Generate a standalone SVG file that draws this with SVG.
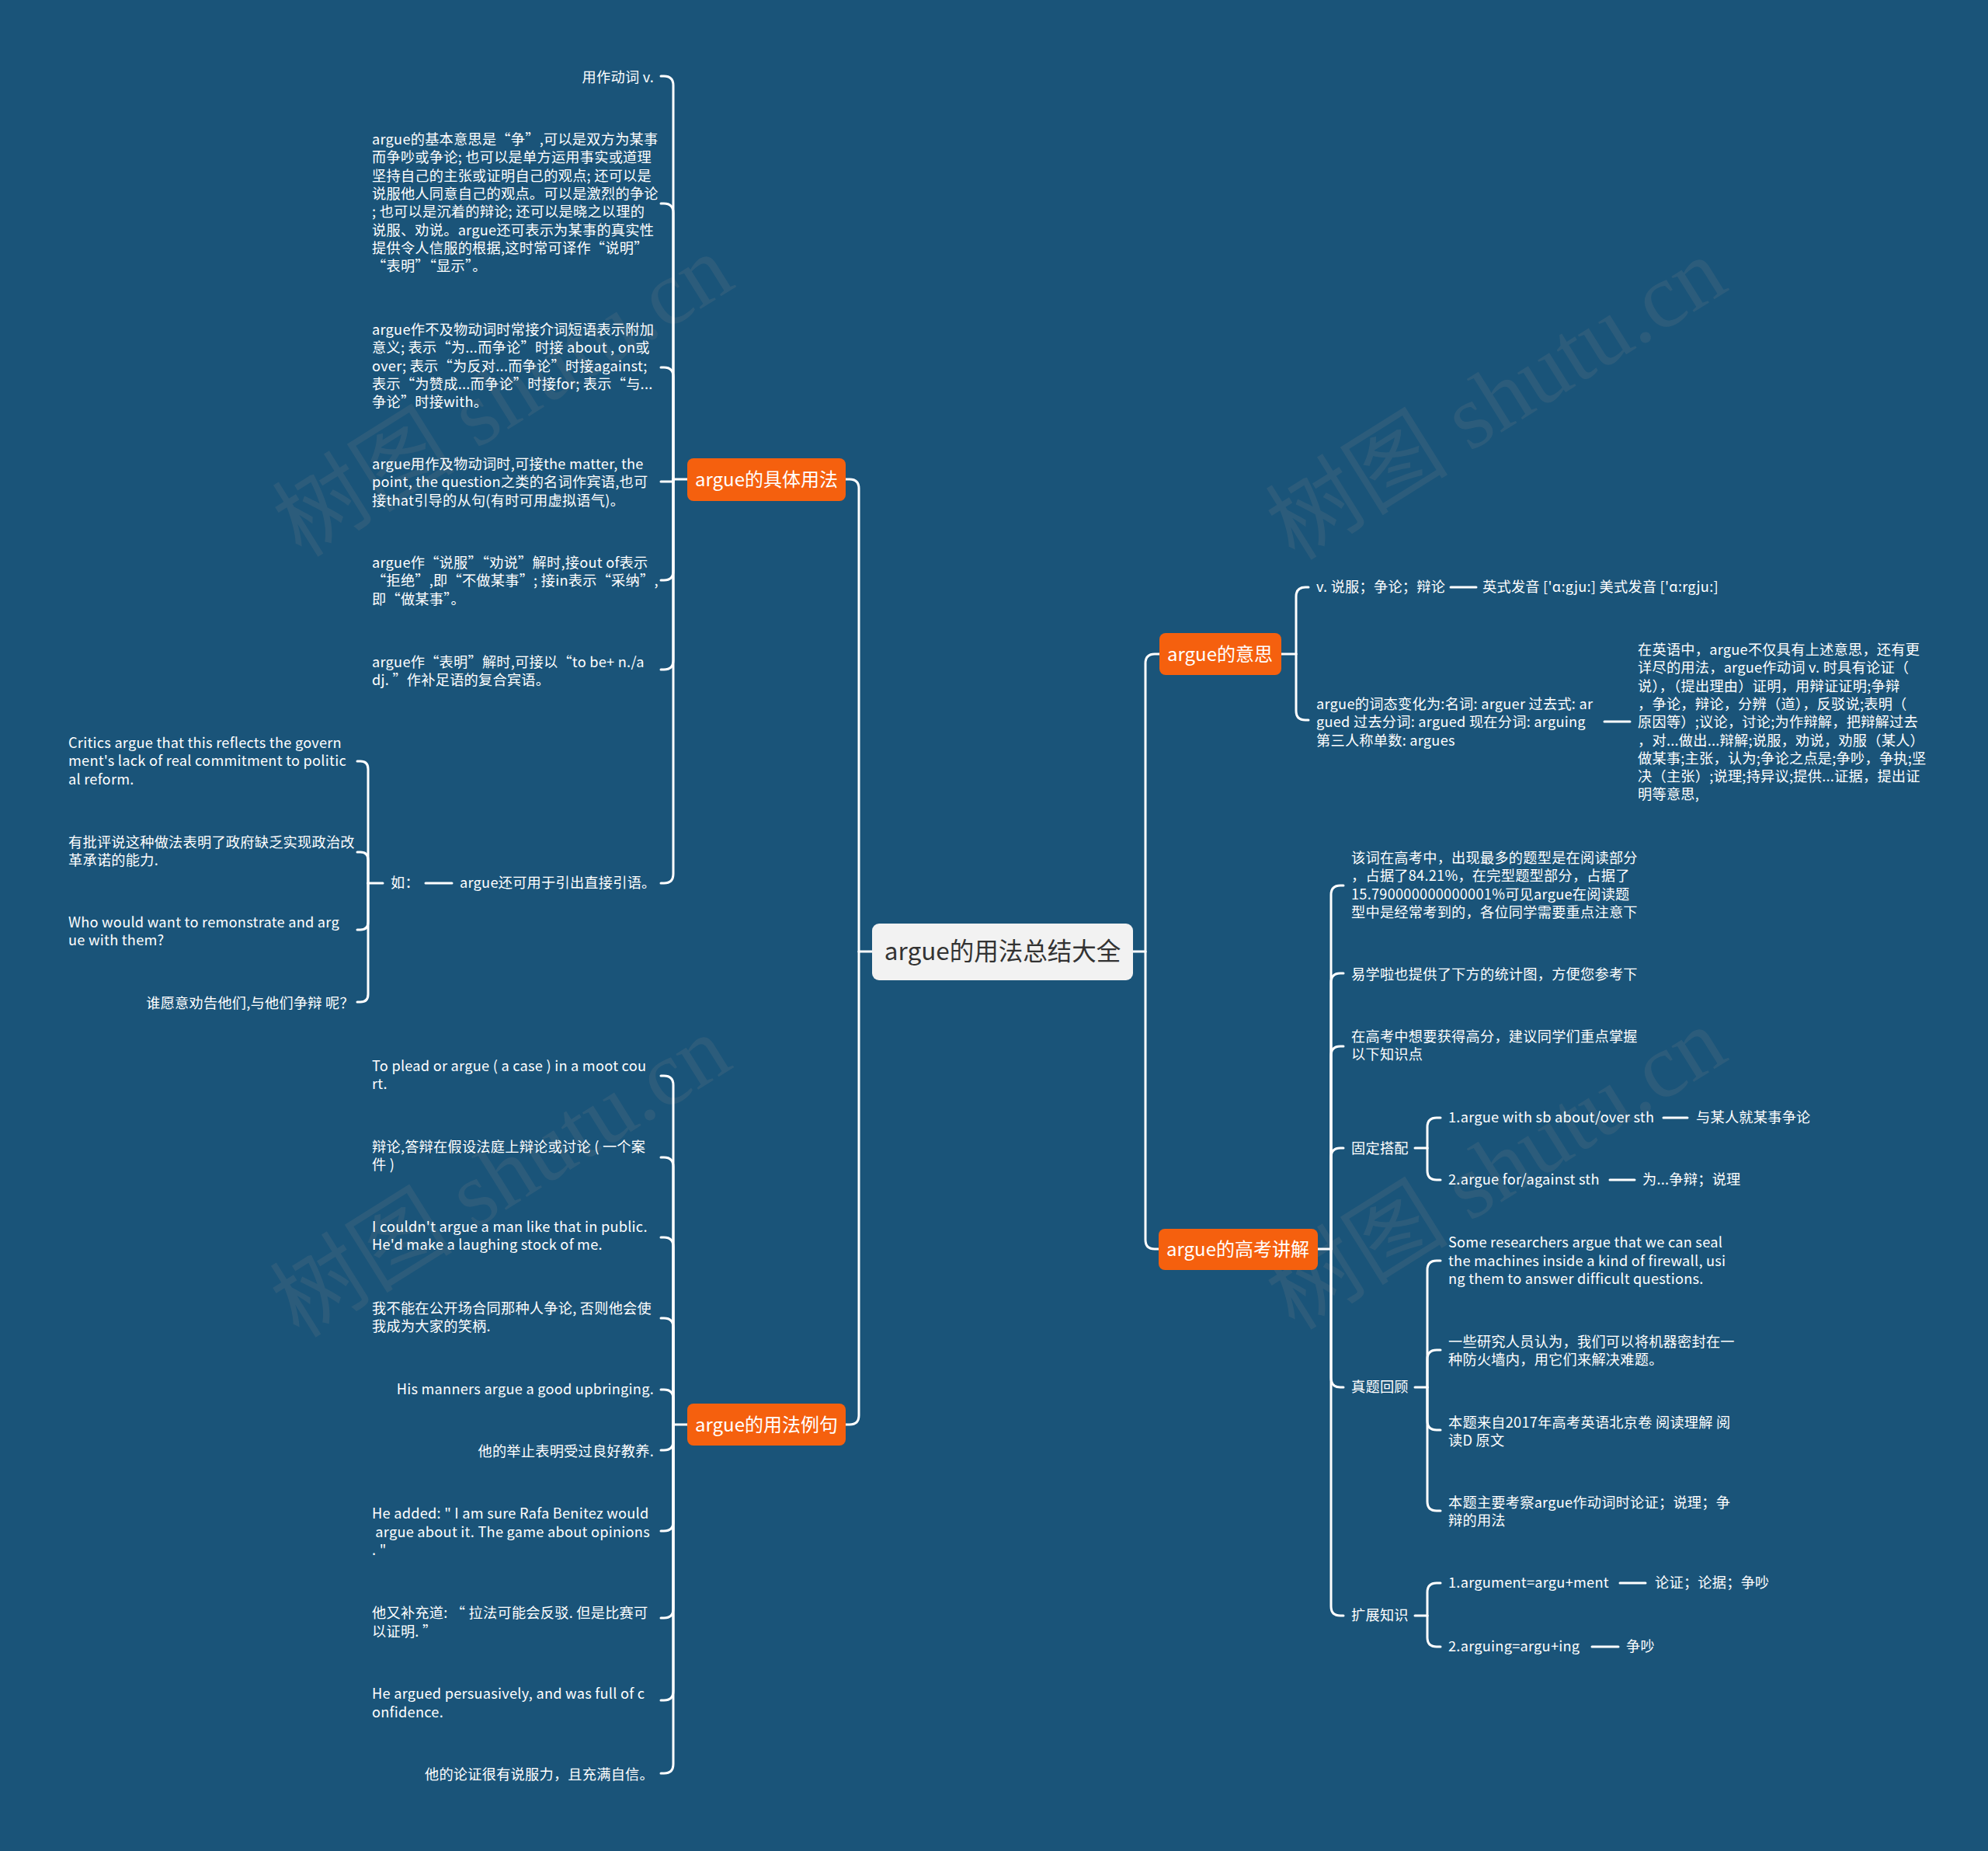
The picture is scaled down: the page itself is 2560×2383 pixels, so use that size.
<svg xmlns="http://www.w3.org/2000/svg" width="2560" height="2383" viewBox="0 0 2560 2383">
<style>
.bg{fill:#1a5479}
.wm{font-family:"Liberation Serif","Noto Sans CJK SC",serif;font-size:118px;fill:#8a8a8a;opacity:0.16}
.ln{fill:none;stroke:#ffffff;stroke-width:3;stroke-linecap:round}
.t{font-family:"Noto Sans CJK SC","Noto Sans",sans-serif;font-size:18.2px;letter-spacing:0.25px;fill:#ffffff}
.e{text-anchor:end}
.br{fill:#f5600e}
.bt{font-family:"Noto Sans CJK SC","Noto Sans",sans-serif;font-size:24px;fill:#ffffff;text-anchor:middle}
.ct{font-family:"Noto Sans CJK SC","Noto Sans",sans-serif;font-size:31.5px;fill:#333333;text-anchor:middle}
</style>
<rect class="bg" x="0" y="0" width="2560" height="2383"/>
<g id="watermark">
<text class="wm" transform="translate(648 510) rotate(-32)" text-anchor="middle" dominant-baseline="central">树图 shutu.cn</text>
<text class="wm" transform="translate(1927 514) rotate(-32)" text-anchor="middle" dominant-baseline="central">树图 shutu.cn</text>
<text class="wm" transform="translate(645 1515) rotate(-32)" text-anchor="middle" dominant-baseline="central">树图 shutu.cn</text>
<text class="wm" transform="translate(1927 1505) rotate(-32)" text-anchor="middle" dominant-baseline="central">树图 shutu.cn</text>
</g>
<g id="connectors">
<path class="ln" d="M1123 1225 H1106"/>
<path class="ln" d="M1106 1225 V629 Q1106 617 1094 617 H1089"/>
<path class="ln" d="M1106 1225 V1822 Q1106 1834 1094 1834 H1089"/>
<path class="ln" d="M1459 1225 H1475"/>
<path class="ln" d="M1475 1225 V854 Q1475 842 1487 842 H1493"/>
<path class="ln" d="M1475 1225 V1596 Q1475 1608 1487 1608 H1492"/>
<path class="ln" d="M885 617 H867"/>
<path class="ln" d="M867 617 V110 Q867 98 855 98 H851"/>
<path class="ln" d="M867 617 V274 Q867 262 855 262 H851"/>
<path class="ln" d="M867 617 V485 Q867 473 855 473 H851"/>
<path class="ln" d="M867 617 V620 H851"/>
<path class="ln" d="M867 617 V735 Q867 747 855 747 H851"/>
<path class="ln" d="M867 617 V850 Q867 862 855 862 H851"/>
<path class="ln" d="M867 617 V1125 Q867 1137 855 1137 H851"/>
<path class="ln" d="M582 1137 H548"/>
<path class="ln" d="M493 1137 H474"/>
<path class="ln" d="M474 1137 V990 Q474 980 464 980 H460"/>
<path class="ln" d="M474 1137 V1107 Q474 1097 464 1097 H460"/>
<path class="ln" d="M474 1137 V1187 Q474 1197 464 1197 H460"/>
<path class="ln" d="M474 1137 V1280 Q474 1290 464 1290 H460"/>
<path class="ln" d="M885 1834 H867"/>
<path class="ln" d="M867 1834 V1397 Q867 1385 855 1385 H851"/>
<path class="ln" d="M867 1834 V1502 Q867 1490 855 1490 H851"/>
<path class="ln" d="M867 1834 V1605 Q867 1593 855 1593 H851"/>
<path class="ln" d="M867 1834 V1709 Q867 1697 855 1697 H851"/>
<path class="ln" d="M867 1834 V1801 Q867 1789 855 1789 H851"/>
<path class="ln" d="M867 1834 V1855 Q867 1867 855 1867 H851"/>
<path class="ln" d="M867 1834 V1959 Q867 1971 855 1971 H851"/>
<path class="ln" d="M867 1834 V2071 Q867 2083 855 2083 H851"/>
<path class="ln" d="M867 1834 V2177 Q867 2189 855 2189 H851"/>
<path class="ln" d="M867 1834 V2271 Q867 2283 855 2283 H851"/>
<path class="ln" d="M1650 842 H1669"/>
<path class="ln" d="M1669 842 V768 Q1669 756 1681 756 H1685"/>
<path class="ln" d="M1669 842 V915 Q1669 927 1681 927 H1685"/>
<path class="ln" d="M1868 756 H1901"/>
<path class="ln" d="M2066 929 H2099"/>
<path class="ln" d="M1697 1608 H1714"/>
<path class="ln" d="M1714 1608 V1152 Q1714 1140 1726 1140 H1730"/>
<path class="ln" d="M1714 1608 V1265 Q1714 1253 1726 1253 H1730"/>
<path class="ln" d="M1714 1608 V1359 Q1714 1347 1726 1347 H1730"/>
<path class="ln" d="M1714 1608 V1490 Q1714 1478 1726 1478 H1730"/>
<path class="ln" d="M1714 1608 V1774 Q1714 1786 1726 1786 H1730"/>
<path class="ln" d="M1714 1608 V2068 Q1714 2080 1726 2080 H1730"/>
<path class="ln" d="M1822 1478 H1838"/>
<path class="ln" d="M1838 1478 V1451 Q1838 1439 1850 1439 H1855"/>
<path class="ln" d="M1838 1478 V1507 Q1838 1519 1850 1519 H1855"/>
<path class="ln" d="M2142 1439 H2173"/>
<path class="ln" d="M2073 1519 H2105"/>
<path class="ln" d="M1822 1786 H1838"/>
<path class="ln" d="M1838 1786 V1635 Q1838 1623 1850 1623 H1855"/>
<path class="ln" d="M1838 1786 V1750 Q1838 1738 1850 1738 H1855"/>
<path class="ln" d="M1838 1786 V1829 Q1838 1841 1850 1841 H1855"/>
<path class="ln" d="M1838 1786 V1933 Q1838 1945 1850 1945 H1855"/>
<path class="ln" d="M1822 2080 H1838"/>
<path class="ln" d="M1838 2080 V2050 Q1838 2038 1850 2038 H1855"/>
<path class="ln" d="M1838 2080 V2108 Q1838 2120 1850 2120 H1855"/>
<path class="ln" d="M2086 2038 H2119"/>
<path class="ln" d="M2050 2120 H2084"/>
</g>
<g id="center">
<rect x="1123" y="1189" width="336" height="73" rx="9" fill="#f2f2f2"/>
<text class="ct" x="1291" y="1236">argue的用法总结大全</text>
</g>
<g id="b-jtyf">
<rect class="br" x="885" y="590" width="204" height="55" rx="8"/>
<text class="bt" x="987" y="626">argue的具体用法</text>
</g>
<g id="b-yflj">
<rect class="br" x="885" y="1807" width="204" height="54" rx="8"/>
<text class="bt" x="987" y="1843">argue的用法例句</text>
</g>
<g id="b-ys">
<rect class="br" x="1493" y="815" width="157" height="54" rx="8"/>
<text class="bt" x="1571" y="851">argue的意思</text>
</g>
<g id="b-gk">
<rect class="br" x="1492" y="1582" width="205" height="53" rx="8"/>
<text class="bt" x="1594" y="1617">argue的高考讲解</text>
</g>
<g id="n-l1"><text class="t e" x="842" y="106">用作动词 v.</text></g>
<g id="n-l2"><text class="t" x="479" y="186">argue的基本意思是“争”,可以是双方为某事<tspan x="479" dy="23.3">而争吵或争论; 也可以是单方运用事实或道理</tspan><tspan x="479" dy="23.3">坚持自己的主张或证明自己的观点; 还可以是</tspan><tspan x="479" dy="23.3">说服他人同意自己的观点。可以是激烈的争论</tspan><tspan x="479" dy="23.3">; 也可以是沉着的辩论; 还可以是晓之以理的</tspan><tspan x="479" dy="23.3">说服、劝说。argue还可表示为某事的真实性</tspan><tspan x="479" dy="23.3">提供令人信服的根据,这时常可译作“说明”</tspan><tspan x="479" dy="23.3">“表明”“显示”。</tspan></text></g>
<g id="n-l3"><text class="t" x="479" y="431">argue作不及物动词时常接介词短语表示附加<tspan x="479" dy="23.3">意义; 表示“为...而争论”时接 about , on或</tspan><tspan x="479" dy="23.3">over; 表示“为反对...而争论”时接against;</tspan><tspan x="479" dy="23.3">表示“为赞成...而争论”时接for; 表示“与...</tspan><tspan x="479" dy="23.3">争论”时接with。</tspan></text></g>
<g id="n-l4"><text class="t" x="479" y="604">argue用作及物动词时,可接the matter, the<tspan x="479" dy="23.3">point, the question之类的名词作宾语,也可</tspan><tspan x="479" dy="23.3">接that引导的从句(有时可用虚拟语气)。</tspan></text></g>
<g id="n-l5"><text class="t" x="479" y="731">argue作“说服”“劝说”解时,接out of表示<tspan x="479" dy="23.3">“拒绝”,即“不做某事”; 接in表示“采纳”,</tspan><tspan x="479" dy="23.3">即“做某事”。</tspan></text></g>
<g id="n-l6"><text class="t" x="479" y="859">argue作“表明”解时,可接以“to be+ n./a<tspan x="479" dy="23.3">dj. ”作补足语的复合宾语。</tspan></text></g>
<g id="n-l7"><text class="t" x="592" y="1143">argue还可用于引出直接引语。</text></g>
<g id="n-ru"><text class="t" x="503" y="1143">如：</text></g>
<g id="n-ru1"><text class="t" x="88" y="963">Critics argue that this reflects the govern<tspan x="88" dy="23.3">ment's lack of real commitment to politic</tspan><tspan x="88" dy="23.3">al reform.</tspan></text></g>
<g id="n-ru2"><text class="t" x="88" y="1091">有批评说这种做法表明了政府缺乏实现政治改<tspan x="88" dy="23.3">革承诺的能力.</tspan></text></g>
<g id="n-ru3"><text class="t" x="88" y="1194">Who would want to remonstrate and arg<tspan x="88" dy="23.3">ue with them?</tspan></text></g>
<g id="n-ru4"><text class="t e" x="456" y="1298">谁愿意劝告他们,与他们争辩 呢？</text></g>
<g id="n-e1"><text class="t" x="479" y="1379">To plead or argue ( a case ) in a moot cou<tspan x="479" dy="23.3">rt.</tspan></text></g>
<g id="n-e2"><text class="t" x="479" y="1483">辩论,答辩在假设法庭上辩论或讨论 ( 一个案<tspan x="479" dy="23.3">件 )</tspan></text></g>
<g id="n-e3"><text class="t" x="479" y="1586">I couldn't argue a man like that in public.<tspan x="479" dy="23.3">He'd make a laughing stock of me.</tspan></text></g>
<g id="n-e4"><text class="t" x="479" y="1691">我不能在公开场合同那种人争论, 否则他会使<tspan x="479" dy="23.3">我成为大家的笑柄.</tspan></text></g>
<g id="n-e5"><text class="t e" x="842" y="1795">His manners argue a good upbringing.</text></g>
<g id="n-e6"><text class="t e" x="842" y="1875">他的举止表明受过良好教养.</text></g>
<g id="n-e7"><text class="t" x="479" y="1955" xml:space="preserve">He added: " I am sure Rafa Benitez would<tspan x="479" dy="23.5"> argue about it. The game about opinions</tspan><tspan x="479" dy="23">. "</tspan></text></g>
<g id="n-e8"><text class="t" x="479" y="2083">他又补充道: “ 拉法可能会反驳. 但是比赛可<tspan x="479" dy="24">以证明. ”</tspan></text></g>
<g id="n-e9"><text class="t" x="479" y="2187">He argued persuasively, and was full of c<tspan x="479" dy="24">onfidence.</tspan></text></g>
<g id="n-e10"><text class="t e" x="842" y="2291">他的论证很有说服力，且充满自信。</text></g>
<g id="n-ys1"><text class="t" x="1695" y="762">v. 说服；争论；辩论</text></g>
<g id="n-ys1a"><text class="t" x="1909" y="762">英式发音 ['ɑ:gju:] 美式发音 ['ɑ:rgju:]</text></g>
<g id="n-ys2"><text class="t" x="1695" y="913">argue的词态变化为:名词: arguer 过去式: ar<tspan x="1695" dy="23.3">gued 过去分词: argued 现在分词: arguing</tspan><tspan x="1695" dy="23.3">第三人称单数: argues</tspan></text></g>
<g id="n-ys2a"><text class="t" x="2109" y="843">在英语中，argue不仅具有上述意思，还有更<tspan x="2109" dy="23.3">详尽的用法，argue作动词 v. 时具有论证（</tspan><tspan x="2109" dy="23.3">说），（提出理由）证明，用辩证证明;争辩</tspan><tspan x="2109" dy="23.3">，争论，辩论，分辨（道），反驳说;表明（</tspan><tspan x="2109" dy="23.3">原因等）;议论，讨论;为作辩解，把辩解过去</tspan><tspan x="2109" dy="23.3">，对...做出...辩解;说服，劝说，劝服（某人）</tspan><tspan x="2109" dy="23.3">做某事;主张，认为;争论之点是;争吵，争执;坚</tspan><tspan x="2109" dy="23.3">决（主张）;说理;持异议;提供...证据，提出证</tspan><tspan x="2109" dy="23.3">明等意思,</tspan></text></g>
<g id="n-gk1"><text class="t" x="1740" y="1111">该词在高考中，出现最多的题型是在阅读部分<tspan x="1740" dy="23.3">，占据了84.21%，在完型题型部分，占据了</tspan><tspan x="1740" dy="23.3">15.790000000000001%可见argue在阅读题</tspan><tspan x="1740" dy="23.3">型中是经常考到的，各位同学需要重点注意下</tspan></text></g>
<g id="n-gk2"><text class="t" x="1740" y="1261">易学啦也提供了下方的统计图，方便您参考下</text></g>
<g id="n-gk3"><text class="t" x="1740" y="1341">在高考中想要获得高分，建议同学们重点掌握<tspan x="1740" dy="23.3">以下知识点</tspan></text></g>
<g id="n-gk4"><text class="t" x="1740" y="1485">固定搭配</text></g>
<g id="n-gk4a"><text class="t" x="1865" y="1445">1.argue with sb about/over sth</text></g>
<g id="n-gk4a1"><text class="t" x="2184" y="1445">与某人就某事争论</text></g>
<g id="n-gk4b"><text class="t" x="1865" y="1525">2.argue for/against sth</text></g>
<g id="n-gk4b1"><text class="t" x="2115" y="1525">为...争辩；说理</text></g>
<g id="n-gk5"><text class="t" x="1740" y="1792">真题回顾</text></g>
<g id="n-gk5a"><text class="t" x="1865" y="1606">Some researchers argue that we can seal<tspan x="1865" dy="23.5">the machines inside a kind of firewall, usi</tspan><tspan x="1865" dy="23.5">ng them to answer difficult questions.</tspan></text></g>
<g id="n-gk5b"><text class="t" x="1865" y="1734">一些研究人员认为，我们可以将机器密封在一<tspan x="1865" dy="23.3">种防火墙内，用它们来解决难题。</tspan></text></g>
<g id="n-gk5c"><text class="t" x="1865" y="1838">本题来自2017年高考英语北京卷 阅读理解 阅<tspan x="1865" dy="23.3">读D 原文</tspan></text></g>
<g id="n-gk5d"><text class="t" x="1865" y="1941">本题主要考察argue作动词时论证；说理；争<tspan x="1865" dy="23.3">辩的用法</tspan></text></g>
<g id="n-gk6"><text class="t" x="1740" y="2086">扩展知识</text></g>
<g id="n-gk6a"><text class="t" x="1865" y="2044">1.argument=argu+ment</text></g>
<g id="n-gk6a1"><text class="t" x="2131" y="2044">论证；论据；争吵</text></g>
<g id="n-gk6b"><text class="t" x="1865" y="2126">2.arguing=argu+ing</text></g>
<g id="n-gk6b1"><text class="t" x="2094" y="2126">争吵</text></g>
</svg>
